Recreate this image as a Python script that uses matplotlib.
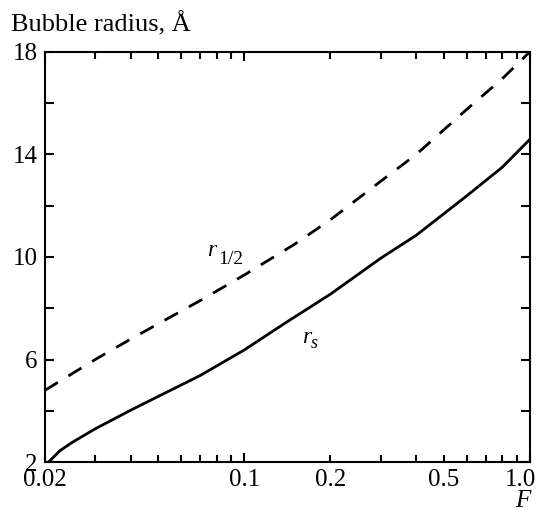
import matplotlib
matplotlib.use("Agg")
import matplotlib.pyplot as plt
import matplotlib.transforms as mtrans
from matplotlib.ticker import FixedLocator, FuncFormatter, NullFormatter

plt.rcParams['font.family'] = ['Liberation Serif', 'DejaVu Serif']
plt.rcParams['lines.scale_dashes'] = False

# Data
F_s = [0.0206, 0.0226, 0.025, 0.03, 0.04, 0.05, 0.07, 0.1, 0.14, 0.2, 0.3, 0.4, 0.6, 0.8, 1.0]
r_s = [2.0, 2.45, 2.78, 3.30, 4.03, 4.57, 5.38, 6.38, 7.45, 8.55, 9.95, 10.85, 12.38, 13.5, 14.59]
F_h = [0.02, 0.03, 0.04, 0.05, 0.07, 0.1, 0.15, 0.2, 0.3, 0.4, 0.6, 0.8, 1.0]
r_h = [4.80, 6.00, 6.80, 7.40, 8.30, 9.30, 10.50, 11.45, 12.95, 14.0, 15.75, 16.95, 18.0]

x_major = [0.1, 1.0]
x_minor = [0.03, 0.04, 0.05, 0.06, 0.07, 0.08, 0.09, 0.2, 0.3, 0.4, 0.5, 0.6, 0.7, 0.8, 0.9]
x_minor_labels = {0.02: "0.02", 0.2: "0.2", 0.5: "0.5"}
y_major = [2, 6, 10, 14, 18]
y_minor = [4, 8, 12, 16]

FS = 18

fig = plt.figure(figsize=(5.48, 5.16), dpi=100)
ax = fig.add_axes([0.0816, 0.1041, 0.8856, 0.7957])

ax.plot(F_s, r_s, color='black', lw=2.0, solid_capstyle='butt', solid_joinstyle='round')
ax.plot(F_h, r_h, color='black', lw=2.0, linestyle=(0, (11, 9)), dash_capstyle='butt')

ax.set_xscale('log')
ax.set_xlim(0.02, 1.0)
ax.set_ylim(2, 18)

ax.xaxis.set_major_locator(FixedLocator(x_major))
ax.xaxis.set_major_formatter(FuncFormatter(lambda v, p: "%.1f" % v))
ax.xaxis.set_minor_locator(FixedLocator([0.02] + x_minor))
ax.xaxis.set_minor_formatter(FuncFormatter(
    lambda v, p: next((s for k, s in x_minor_labels.items() if abs(k - v) < 1e-9), "")))

ax.yaxis.set_major_locator(FixedLocator(y_major))
ax.yaxis.set_minor_locator(FixedLocator(y_minor))
ax.yaxis.set_minor_formatter(NullFormatter())

ax.tick_params(which='both', direction='in', top=True, right=True, width=1.5,
               labelsize=FS, colors='black')
ax.tick_params(axis='x', which='major', length=6.7, pad=5)
ax.tick_params(axis='x', which='minor', length=4.8, pad=5)
ax.tick_params(axis='y', which='both', length=6.7, pad=5)

for sp in ax.spines.values():
    sp.set_linewidth(1.5)

# shift the "1.0" label a little to the left, as in the reference
tick_last = ax.xaxis.get_major_ticks()[1]
tick_last.label1.set_transform(tick_last.label1.get_transform() +
                               mtrans.ScaledTranslation(-10 / 100, 0, fig.dpi_scale_trans))

# curve labels: italic r with upright / italic subscripts
ax.text(0.0741, 10.02, 'r', fontsize=17, style='italic', ha='left', va='baseline')
ax.text(0.0812, 9.71, '1/2', fontsize=14, ha='left', va='baseline')
ax.text(0.1589, 6.66, 'r', fontsize=17, style='italic', ha='left', va='baseline')
ax.text(0.1714, 6.465, 's', fontsize=13, style='italic', ha='left', va='baseline')

fig.text(11 / 548, 1 - 31.5 / 516, 'Bubble radius, Å', fontsize=19, ha='left', va='baseline')
fig.text(515 / 548, 1 - 507 / 516, 'F', fontsize=FS, style='italic', ha='left', va='baseline')

fig.savefig('out.png', dpi=100)
